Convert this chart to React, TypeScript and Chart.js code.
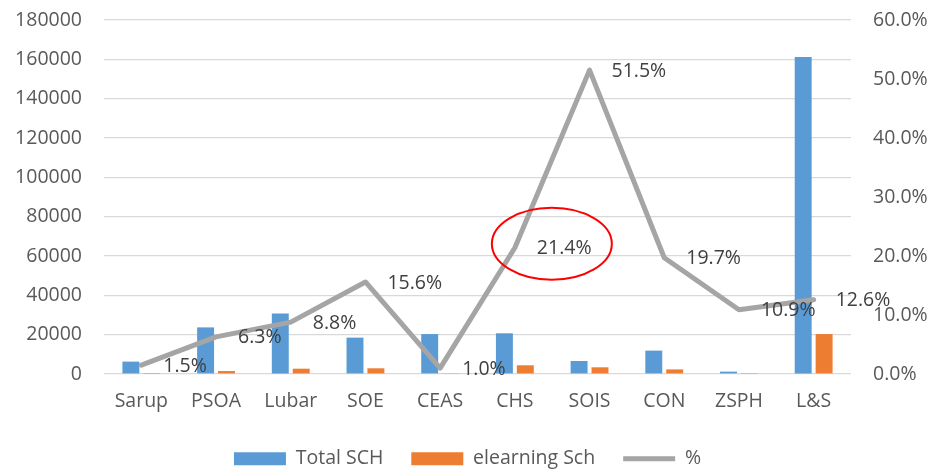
import React, { useEffect, useRef } from 'react';
import { Chart, registerables } from 'chart.js';

Chart.register(...registerables);

const categories = ['Sarup', 'PSOA', 'Lubar', 'SOE', 'CEAS', 'CHS', 'SOIS', 'CON', 'ZSPH', 'L&S'];
const totalSch = [6300, 23700, 30700, 18500, 20300, 20700, 6600, 11900, 1200, 161200];
const elearningSch = [95, 1500, 2700, 2900, 200, 4430, 3400, 2340, 130, 20300];
const percent = [1.5, 6.3, 8.8, 15.6, 1.0, 21.4, 51.5, 19.7, 10.9, 12.6];
const highlightIndex = 5;

const FONT = "'Open Sans', sans-serif";
const FS = 19.5;
const TEXT = '#595959';

const labelPlugin = {
  id: 'pctLabels',
  afterDatasetsDraw(chart: any) {
    const ctx = chart.ctx;
    const meta = chart.getDatasetMeta(2);
    ctx.save();
    ctx.font = `${FS}px ${FONT}`;
    ctx.fillStyle = '#404040';
    ctx.textAlign = 'left';
    ctx.textBaseline = 'middle';
    meta.data.forEach((pt: any, i: number) => {
      ctx.fillText(percent[i].toFixed(1) + '%', pt.x + 22, pt.y + 1);
    });
    const hp = meta.data[highlightIndex];
    if (hp) {
      ctx.beginPath();
      ctx.ellipse(hp.x + 37, hp.y - 4, 60, 36, 0, 0, Math.PI * 2);
      ctx.strokeStyle = '#FF0000';
      ctx.lineWidth = 2;
      ctx.stroke();
    }
    ctx.restore();
  },
};

export default function App() {
  const ref = useRef<HTMLCanvasElement>(null);
  useEffect(() => {
    if (!ref.current) return;
    const chart = new Chart(ref.current, {
      type: 'bar',
      data: {
        labels: categories,
        datasets: [
          {
            type: 'bar',
            label: 'Total SCH',
            data: totalSch,
            backgroundColor: '#5B9BD5',
            borderWidth: 0,
            pointStyle: 'rect',
            yAxisID: 'y',
            order: 1,
            categoryPercentage: 0.56,
            barPercentage: 0.81,
          } as any,
          {
            type: 'bar',
            label: 'elearning Sch',
            data: elearningSch,
            backgroundColor: '#ED7D31',
            borderWidth: 0,
            pointStyle: 'rect',
            yAxisID: 'y',
            order: 1,
            categoryPercentage: 0.56,
            barPercentage: 0.81,
          } as any,
          {
            type: 'line',
            label: '%',
            data: percent,
            borderColor: '#A5A5A5',
            backgroundColor: '#A5A5A5',
            borderWidth: 5,
            borderCapStyle: 'round',
            borderJoinStyle: 'round',
            pointRadius: 0,
            pointStyle: 'line',
            tension: 0,
            yAxisID: 'y1',
            order: 0,
          } as any,
        ],
      },
      options: {
        responsive: false,
        animation: false,
        layout: { padding: { top: 20, left: 0, right: 0, bottom: 0 } },
        plugins: {
          tooltip: { enabled: false },
          legend: {
            position: 'bottom',
            maxHeight: 51,
            labels: {
              usePointStyle: true,
              pointStyleWidth: 52,
              boxHeight: 13,
              padding: 28,
              color: TEXT,
              font: { family: FONT, size: FS },
              sort: (a: any, b: any) => a.datasetIndex - b.datasetIndex,
            },
          } as any,
        },
        scales: {
          x: {
            grid: { display: false },
            border: { display: false },
            ticks: { color: TEXT, font: { family: FONT, size: FS }, padding: 8, maxRotation: 0 },
            afterFit: (s: any) => { s.height = 47; },
          },
          y: {
            position: 'left',
            min: 0,
            max: 180000,
            border: { display: false },
            grid: { color: '#D9D9D9', lineWidth: 1.2, drawTicks: false },
            ticks: {
              stepSize: 20000,
              color: TEXT,
              padding: 22,
              font: { family: FONT, size: FS },
              callback: (v: any) => String(v),
            },
            afterFit: (s: any) => { s.width = 104; s.paddingTop = 0; s.paddingBottom = 0; },
          },
          y1: {
            position: 'right',
            min: 0,
            max: 60,
            border: { display: false },
            grid: { display: false, drawTicks: false },
            ticks: {
              stepSize: 10,
              color: TEXT,
              padding: 22,
              font: { family: FONT, size: FS },
              callback: (v: any) => Number(v).toFixed(1) + '%',
            },
            afterFit: (s: any) => { s.width = 84; s.paddingTop = 0; s.paddingBottom = 0; },
          },
        },
      },
      plugins: [labelPlugin],
    });
    return () => chart.destroy();
  }, []);
  return (
    <div style={{ position: 'fixed', left: 0, top: 0, width: 935, height: 472, background: '#fff' }}>
      <canvas ref={ref} width={935} height={472} style={{ display: 'block' }} />
    </div>
  );
}
